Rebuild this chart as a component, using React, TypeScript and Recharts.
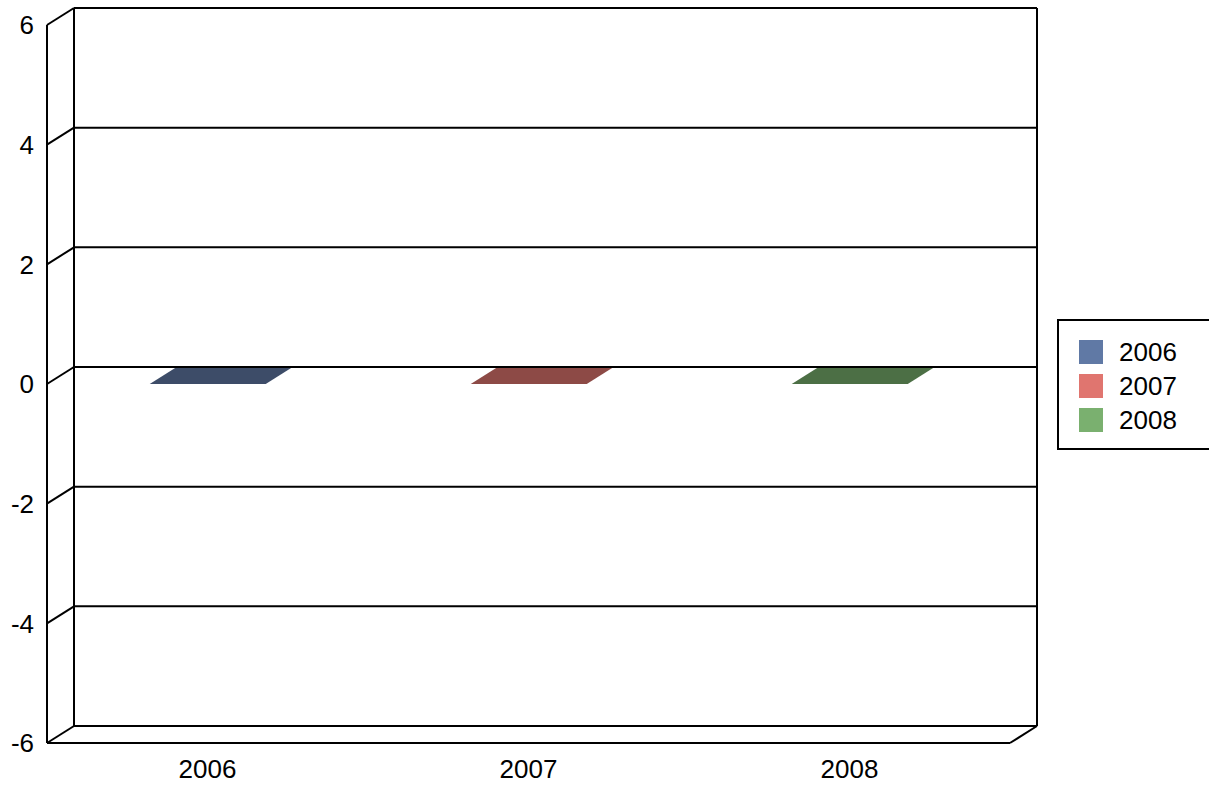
import React from 'react';
import { BarChart, Bar, XAxis, YAxis } from 'recharts';

const categories = ['2006', '2007', '2008'];
const values = [0, 0, 0];
const seriesColors = ['#6079a5', '#e0756f', '#7ab06f'];
const faceColors = ['#3d4c68', '#8d4a46', '#4c6f45'];
const yTicks = [-6, -4, -2, 0, 2, 4, 6];

const W = 1209;
const H = 786;
const PLOT_LEFT = 47;
const PLOT_RIGHT = 1010;
const PLOT_TOP = 25;
const PLOT_BOTTOM = 743;
const DX = 27;
const DY = -17;
const FONT = '"Liberation Sans", Arial, sans-serif';
const FS = 26;

const data = categories.map((c, i) => ({
  category: c,
  value: values[i],
  fill: seriesColors[i],
  face: faceColors[i],
}));

function Bar3D(props: any) {
  const { x, y, width, height, payload } = props;
  if (x == null || y == null) return null;
  const top = Math.min(y, y + height);
  const h = Math.abs(height || 0);
  const w = width;
  const topFace = `${x},${top} ${x + w},${top} ${x + w + DX},${top + DY} ${x + DX},${top + DY}`;
  const side = `${x + w},${top} ${x + w + DX},${top + DY} ${x + w + DX},${top + h + DY} ${x + w},${top + h}`;
  return (
    <g>
      {h > 0 && <rect x={x} y={top} width={w} height={h} fill={payload.fill} />}
      {h > 0 && <polygon points={side} fill={payload.face} />}
      <polygon points={topFace} fill={payload.face} />
    </g>
  );
}

function YTick(props: any) {
  const { x, y, payload } = props;
  return (
    <g>
      <line x1={PLOT_LEFT} y1={y} x2={PLOT_LEFT + DX} y2={y + DY} stroke="#000" strokeWidth={2} />
      <line x1={PLOT_LEFT + DX} y1={y + DY} x2={PLOT_RIGHT + DX} y2={y + DY} stroke="#000" strokeWidth={2} />
      <text x={x} y={y} dy="0.355em" textAnchor="end" fontFamily={FONT} fontSize={FS} fill="#000">
        {payload.value}
      </text>
    </g>
  );
}

function XTick(props: any) {
  const { x, y, payload } = props;
  return (
    <text x={x} y={y} dy="0.71em" textAnchor="middle" fontFamily={FONT} fontSize={FS} fill="#000">
      {payload.value}
    </text>
  );
}

export default function App() {
  return (
    <div
      style={{
        position: 'absolute',
        left: 0,
        top: 0,
        width: W,
        height: H,
        overflow: 'hidden',
        background: '#fff',
        fontFamily: FONT,
      }}
    >
      <BarChart
        width={W}
        height={H}
        data={data}
        margin={{ top: PLOT_TOP, right: W - PLOT_RIGHT, bottom: 0, left: 0 }}
        barCategoryGap="32%"
      >
        <XAxis
          dataKey="category"
          height={H - PLOT_BOTTOM}
          axisLine={{ stroke: '#000', strokeWidth: 2 }}
          tickLine={false}
          tickSize={0}
          tickMargin={17}
          tick={<XTick />}
          interval={0}
        />
        <YAxis
          type="number"
          domain={[-6, 6]}
          ticks={yTicks}
          interval={0}
          width={PLOT_LEFT}
          axisLine={{ stroke: '#000', strokeWidth: 2 }}
          tickLine={false}
          tickSize={0}
          tickMargin={13}
          tick={<YTick />}
        />
        <Bar dataKey="value" isAnimationActive={false} shape={<Bar3D />} />
      </BarChart>
      <svg
        width={W}
        height={H}
        style={{ position: 'absolute', left: 0, top: 0, pointerEvents: 'none' }}
      >
        <line x1={PLOT_LEFT + DX} y1={PLOT_TOP + DY} x2={PLOT_LEFT + DX} y2={PLOT_BOTTOM + DY} stroke="#000" strokeWidth={2} />
        <line x1={PLOT_RIGHT + DX} y1={PLOT_TOP + DY} x2={PLOT_RIGHT + DX} y2={PLOT_BOTTOM + DY} stroke="#000" strokeWidth={2} />
        <line x1={PLOT_RIGHT} y1={PLOT_BOTTOM} x2={PLOT_RIGHT + DX} y2={PLOT_BOTTOM + DY} stroke="#000" strokeWidth={2} />
      </svg>
      <div
        style={{
          position: 'absolute',
          left: 1057,
          top: 319,
          width: 170,
          height: 131,
          border: '2px solid #000',
          boxSizing: 'border-box',
          background: '#fff',
        }}
      >
        {categories.map((c, i) => (
          <div
            key={c}
            style={{
              position: 'absolute',
              left: 20,
              top: 19 + i * 34,
              height: 24,
              display: 'flex',
              alignItems: 'center',
            }}
          >
            <div style={{ width: 24, height: 24, background: seriesColors[i] }} />
            <span style={{ marginLeft: 16, fontSize: FS, lineHeight: '24px', color: '#000' }}>{c}</span>
          </div>
        ))}
      </div>
    </div>
  );
}
